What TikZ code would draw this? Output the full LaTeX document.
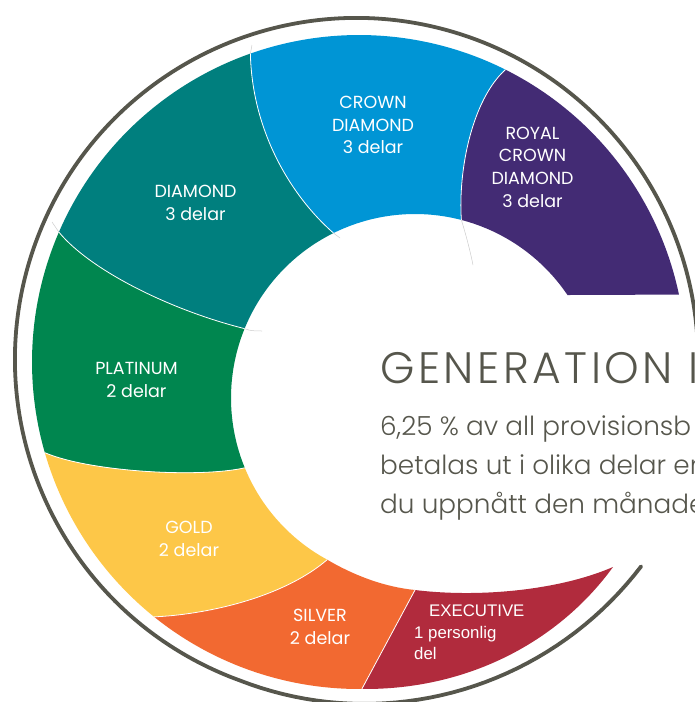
\documentclass[tikz,border=0pt]{standalone}
\usepackage{fontspec}
\setmainfont{Poppins}
\newfontfamily\lightfont{Poppins Light}
\newfontfamily\headfont{Poppins Light}[LetterSpace=8]
\newfontfamily\execfont{Liberation Sans}
\usetikzlibrary{calc}

\definecolor{ringgrey}{HTML}{56564C}
\definecolor{cdblue}{HTML}{0095D5}
\definecolor{rcdpurple}{HTML}{432B74}
\definecolor{diateal}{HTML}{007F7E}
\definecolor{platgreen}{HTML}{00864F}
\definecolor{goldyellow}{HTML}{FDC748}
\definecolor{silverorange}{HTML}{F26931}
\definecolor{execred}{HTML}{B12B3D}

\tikzset{
  divider/.style={draw=white, line width=0.8pt},
  faint/.style={draw=gray!40, line width=0.5pt},
  ringline/.style={draw=ringgrey, line width=3.8pt, line cap=round},
  lbl/.style={text=white, align=center, inner sep=0pt, font=\fontsize{17.5}{22.7}\selectfont},
  execlbl/.style={text=white, align=left, inner sep=0pt, font=\execfont\fontsize{16.8}{21.5}\selectfont},
  heading/.style={text=ringgrey, inner sep=0pt, anchor=base west, font=\headfont\fontsize{44}{48}\selectfont},
  bodytext/.style={text=ringgrey, inner sep=0pt, anchor=base west, font=\lightfont\fontsize{26.3}{39}\selectfont},
}

\begin{document}
\begin{tikzpicture}[x=1pt,y=-1pt,line join=round]
\useasboundingbox (0,0) rectangle (695,702);
\clip (0,0) rectangle (695,702);
\coordinate (O) at (359,362);
\coordinate (I) at (415,398);
\coordinate (G) at (356.5,359.5);
% ends of the dividers, outer and inner edge
\coordinate (tb-o) at ($(O)+(250.6:327)$);
\coordinate (bp-o) at ($(O)+(296.6:327)$);
\coordinate (pe-o) at ($(O)+(348.1:327)$);
\coordinate (tg-o) at ($(O)+(203.4:327)$);
\coordinate (gg-o) at ($(O)+(163.9:327)$);
\coordinate (go-o) at ($(O)+(128.8:327)$);
\coordinate (or-o) at ($(O)+(89.5:327)$);
\coordinate (tb-i) at ($(I)+(243.7:184)$);
\coordinate (bp-i) at ($(I)+(284.6:184)$);
\coordinate (pe-i) at ($(I)+(325.96:184)$);
\coordinate (tg-i) at ($(I)+(202.15:184)$);
\coordinate (gg-i) at ($(I)+(157.7:184)$);
\coordinate (go-i) at ($(I)+(118.5:184)$);
\coordinate (or-i) at (415,590);
\coordinate (tip) at (613,567);

% grey line round the ring
\begin{scope}[shift={(G)}]
\draw[ringline] plot[domain=36:110,samples=40] (\x:{341.5+0.14*(110-\x)}) arc[start angle=110,end angle=356,radius=341.5];
\end{scope}

% segments
\fill[diateal] (tb-o) .. controls (252,130) and (290,195) .. (tb-i) arc[start angle=243.7,end angle=202.15,radius=184]
  .. controls (170,310) and (90,270) .. (tg-o) arc[start angle=203.4,end angle=250.6,radius=327] -- cycle;
\fill[cdblue] (tb-o) arc[start angle=250.6,end angle=296.6,radius=327] .. controls (472,100) and (458,170) .. (bp-i)
  arc[start angle=284.6,end angle=243.7,radius=184] .. controls (290,195) and (252,130) .. (tb-o) -- cycle;
\fill[rcdpurple] (bp-o) arc[start angle=296.6,end angle=348.1,radius=327] -- (pe-i)
  arc[start angle=325.96,end angle=284.6,radius=184] .. controls (458,170) and (472,100) .. (bp-o) -- cycle;
\fill[platgreen] (tg-o) arc[start angle=203.4,end angle=163.9,radius=327] .. controls (90,472) and (200,478) .. (gg-i)
  arc[start angle=157.7,end angle=202.15,radius=184] .. controls (170,310) and (90,270) .. (tg-o) -- cycle;
\fill[goldyellow] (gg-o) arc[start angle=163.9,end angle=128.8,radius=327] .. controls (200,615) and (280,600) .. (go-i)
  arc[start angle=118.5,end angle=157.7,radius=184] .. controls (200,478) and (90,472) .. (gg-o) -- cycle;
\fill[silverorange] (go-o) arc[start angle=128.8,end angle=89.5,radius=327] -- (or-i)
  .. controls (385,587) and (355,576) .. (go-i) .. controls (280,600) and (200,615) .. (go-o) -- cycle;
\fill[execred] (or-o) .. controls (470,690) and (560,640) .. (tip) .. controls (560,590) and (480,598) .. (or-i) -- cycle;

% dividers
\draw[faint] (bp-i) .. controls (466,235) and (470,250) .. (473,265) (tb-o) -- (252,45) (tg-o) -- (52,222)
  (tg-i) .. controls (250,331) and (256,331) .. (262,331) (tb-i) -- (340,238);
\draw[divider] (tb-o) .. controls (252,130) and (290,195) .. (tb-i)
  (bp-o) .. controls (472,100) and (458,170) .. (bp-i)
  (tg-o) .. controls (90,270) and (170,310) .. (tg-i)
  (gg-o) .. controls (90,472) and (200,478) .. (gg-i)
  (go-o) .. controls (200,615) and (280,600) .. (go-i)
  (or-o) -- (or-i);

% labels
\foreach \n/\x/\y/\t in {crown/373/125/{CROWN\\DIAMOND\\3 delar},royal/532.5/167/{ROYAL\\CROWN\\DIAMOND\\3 delar},
  diamond/195.5/203/{DIAMOND\\3 delar},platinum/136.5/380/{PLATINUM\\2 delar},gold/189/539/{GOLD\\2 delar},
  silver/320/627/{SILVER\\2 delar}}{\node[lbl] (\n) at (\x,\y) {\t};}
\node[execlbl,anchor=north west] (executive) at (414,605) {\hspace*{15pt}EXECUTIVE\\1 personlig\\del};

% text
\node[heading] (gen) at (380,383) {GENERATION I};
\node[bodytext] (line1) at (380,435) {6,25 \% av all provisionsb};
\node[bodytext] (line2) at (380,474) {betalas ut i olika delar en};
\node[bodytext] (line3) at (380,513) {du uppnått den månade};
\end{tikzpicture}
\end{document}
